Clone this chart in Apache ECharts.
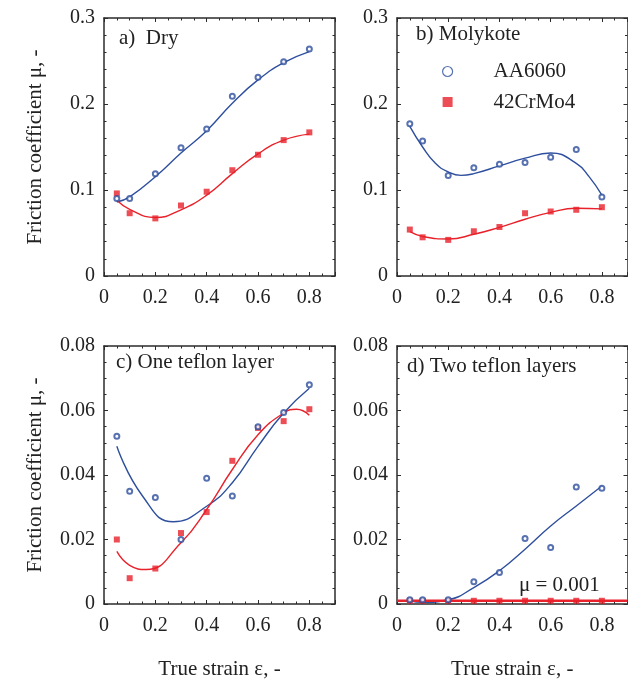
<!DOCTYPE html>
<html><head><meta charset="utf-8">
<script src="https://cdn.jsdelivr.net/npm/echarts@6/dist/echarts.min.js"></script>
<style>html,body{margin:0;padding:0;background:#fff}#c{width:628px;height:681px}</style>
</head><body><div id="c"></div>
<script>
// ---- measured data ----
const strain = [0.05, 0.1, 0.2, 0.3, 0.4, 0.5, 0.6, 0.7, 0.8];
const dryAA  = [0.090, 0.090, 0.119, 0.149, 0.171, 0.209, 0.231, 0.249, 0.264];
const dryCr  = [0.096, 0.073, 0.067, 0.082, 0.098, 0.123, 0.141, 0.158, 0.167];
const molyAA = [0.177, 0.157, 0.117, 0.126, 0.130, 0.132, 0.138, 0.147, 0.092];
const molyCr = [0.054, 0.045, 0.042, 0.052, 0.057, 0.073, 0.075, 0.077, 0.080];
const oneAA  = [0.052, 0.035, 0.033, 0.020, 0.039, 0.0335, 0.055, 0.0594, 0.068];
const oneCr  = [0.020, 0.008, 0.011, 0.022, 0.0285, 0.0444, 0.0546, 0.0567, 0.0604];
const twoAA  = [0.0013, 0.0013, 0.0013, 0.0069, 0.0098, 0.0203, 0.0175, 0.0363, 0.0359];
const twoCr  = [0.001, 0.001, 0.001, 0.001, 0.001, 0.001, 0.001, 0.001, 0.001];

// ---- fitted curves ----
const fitDryX    = [0.05, 0.1, 0.2, 0.3, 0.4, 0.5, 0.6, 0.7, 0.8];
const fitDryAA   = [0.086, 0.092, 0.1155, 0.143, 0.169, 0.201, 0.228, 0.248, 0.261];
const fitDryCr   = [0.088, 0.0775, 0.068, 0.077, 0.094, 0.119, 0.142, 0.158, 0.165];
const fitMolyAAX = [0.05, 0.1, 0.15, 0.2, 0.25, 0.3, 0.4, 0.5, 0.6, 0.7, 0.75, 0.8];
const fitMolyAA  = [0.174, 0.150, 0.131, 0.121, 0.117, 0.119, 0.128, 0.137, 0.143, 0.131, 0.1155, 0.094];
const fitMolyCrX = [0.05, 0.1, 0.2, 0.3, 0.4, 0.5, 0.6, 0.7, 0.8];
const fitMolyCr  = [0.0515, 0.046, 0.043, 0.0485, 0.0566, 0.066, 0.074, 0.0787, 0.078];
const fitOneAAX  = [0.05, 0.15, 0.27, 0.4, 0.5, 0.6, 0.7, 0.8];
const fitOneAA   = [0.0489, 0.0335, 0.0255, 0.0303, 0.0376, 0.0489, 0.0592, 0.0669];
const fitOneCrX  = [0.05, 0.1, 0.165, 0.3, 0.4, 0.5, 0.6, 0.7, 0.75, 0.8];
const fitOneCrY  = null;
const fitOneCr   = [0.0163, 0.012, 0.0107, 0.019, 0.0293, 0.0417, 0.0525, 0.0592, 0.0604, 0.0585];
const fitTwoX    = [0.05, 0.1, 0.2, 0.3, 0.4, 0.5, 0.6, 0.7, 0.8];
const fitTwoAA   = [0.001, 0.0005, 0.0013, 0.0051, 0.0103, 0.017, 0.0242, 0.0304, 0.0366];
const limitX     = [0, 0.9];
const limitMu    = [0.001, 0.001];

// ---- labels ----
const panelTitles = ['a)  Dry', 'b) Molykote', 'c) One teflon layer', 'd) Two teflon layers'];
const seriesNames = ['AA6060', '42CrMo4'];
const xName = 'True strain ε, -';
const yName = 'Friction coefficient μ, -';
const limitLabel = 'μ = 0.001';

const zip = (xs, ys) => xs.map((x, i) => [x, ys[i]]);

const BLUE = '#2E4F9E', RED = '#E8212A', AX = '#2b2b2b';
const FONT = 'Liberation Serif';

const grids = [
  {left: 104, top: 18, width: 231, height: 258},
  {left: 397, top: 18, width: 230.5, height: 258},
  {left: 104, top: 346, width: 231, height: 259},
  {left: 397, top: 346, width: 230.5, height: 259}
];
const yCfg = [
  {max: 0.3, interval: 0.1, minor: 5},
  {max: 0.3, interval: 0.1, minor: 5},
  {max: 0.08, interval: 0.02, minor: 4},
  {max: 0.08, interval: 0.02, minor: 4}
];

const xAxis = [], yAxis = [];
for (let i = 0; i < 4; i++) {
  const bottomRow = i >= 2, leftCol = i % 2 === 0;
  xAxis.push({
    type: 'value', gridIndex: i, min: 0, max: 0.9, interval: 0.2,
    position: 'bottom',
    axisLine: {onZero: false, lineStyle: {color: AX, width: 1.5}},
    axisTick: {inside: true, length: 4, lineStyle: {color: AX}},
    minorTick: {show: true, splitNumber: 4, length: 2.5, lineStyle: {color: AX}},
    splitLine: {show: false},
    axisLabel: {fontFamily: FONT, fontSize: 20, color: '#222', margin: 12, showMaxLabel: false},
    name: bottomRow ? xName : '', nameLocation: 'middle', nameGap: 55,
    nameTextStyle: {fontFamily: FONT, fontSize: 21, color: '#222'}
  });
  xAxis.push({
    type: 'value', gridIndex: i, min: 0, max: 0.9, interval: 0.2, position: 'top',
    axisLine: {onZero: false, lineStyle: {color: AX, width: 1.5}},
    axisTick: {inside: true, length: 4, lineStyle: {color: AX}},
    minorTick: {show: true, splitNumber: 4, length: 2.5, lineStyle: {color: AX}},
    splitLine: {show: false}, axisLabel: {show: false}
  });
  yAxis.push({
    type: 'value', gridIndex: i, min: 0, max: yCfg[i].max, interval: yCfg[i].interval,
    position: 'left',
    axisLine: {show: true, onZero: false, lineStyle: {color: AX, width: 1.5}},
    axisTick: {inside: true, length: 4, lineStyle: {color: AX}},
    minorTick: {show: true, splitNumber: yCfg[i].minor, length: 2.5, lineStyle: {color: AX}},
    splitLine: {show: false},
    axisLabel: {fontFamily: FONT, fontSize: 20, color: '#222', margin: 9},
    name: leftCol ? yName : '', nameLocation: 'middle', nameGap: 58,
    nameTextStyle: {fontFamily: FONT, fontSize: 21, color: '#222'}
  });
  yAxis.push({
    type: 'value', gridIndex: i, min: 0, max: yCfg[i].max, interval: yCfg[i].interval,
    position: 'right',
    axisLine: {show: true, onZero: false, lineStyle: {color: AX, width: 1.5}},
    axisTick: {inside: true, length: 4, lineStyle: {color: AX}},
    minorTick: {show: true, splitNumber: yCfg[i].minor, length: 2.5, lineStyle: {color: AX}},
    splitLine: {show: false}, axisLabel: {show: false}
  });
}

const pointsAA = [dryAA, molyAA, oneAA, twoAA];
const pointsCr = [dryCr, molyCr, oneCr, twoCr];
const fits = [
  [[fitDryX, fitDryAA, BLUE], [fitDryX, fitDryCr, RED]],
  [[fitMolyAAX, fitMolyAA, BLUE], [fitMolyCrX, fitMolyCr, RED]],
  [[fitOneAAX, fitOneAA, BLUE], [fitOneCrX, fitOneCr, RED]],
  [[fitTwoX, fitTwoAA, BLUE]]
];

const series = [];
for (let i = 0; i < 4; i++) {
  fits[i].forEach(([fx, fy, col], k) => {
    series.push({
      type: 'line', name: 'fit' + i + '_' + k, xAxisIndex: 2 * i, yAxisIndex: 2 * i,
      data: zip(fx, fy), smooth: 0.5, showSymbol: false, symbol: 'none',
      lineStyle: {color: col, width: 1.4}, z: 2, silent: true
    });
  });
  if (i === 3) {
    series.push({
      type: 'line', name: 'limit', xAxisIndex: 6, yAxisIndex: 6,
      data: zip(limitX, limitMu), symbol: 'none',
      lineStyle: {color: RED, width: 2.6}, z: 2, silent: true
    });
  }
  series.push({
    type: 'scatter', name: seriesNames[0], xAxisIndex: 2 * i, yAxisIndex: 2 * i,
    data: zip(strain, pointsAA[i]), symbol: 'emptyCircle', symbolSize: 5,
    itemStyle: {color: BLUE, borderColor: BLUE, borderWidth: 1.1}, z: 4
  });
  series.push({
    type: 'scatter', name: seriesNames[1], xAxisIndex: 2 * i, yAxisIndex: 2 * i,
    data: zip(strain, pointsCr[i]), symbol: 'rect', symbolSize: 6,
    itemStyle: {color: RED}, z: 3
  });
}

const titlePos = [[119, 28], [416, 24], [116, 352], [407, 356]];
const option = {
  backgroundColor: '#fff',
  animation: false,
  title: panelTitles.map((t, i) => ({
    text: t, left: titlePos[i][0], top: titlePos[i][1], padding: 0,
    textStyle: {fontFamily: FONT, fontSize: 21, fontWeight: 'normal', color: '#222'}
  })),
  legend: {
    data: [
      {name: seriesNames[0], icon: 'circle', itemStyle: {color: '#ffffff', borderColor: BLUE, borderWidth: 1.2}},
      {name: seriesNames[1], icon: 'rect', itemStyle: {color: RED}}
    ],
    orient: 'vertical', left: 442, top: 61, itemGap: 9.5, itemWidth: 10, itemHeight: 10,
    selectedMode: false, padding: 0,
    textStyle: {fontFamily: FONT, fontSize: 21, color: '#222', padding: [0, 0, 0, 36]}
  },
  graphic: [{
    type: 'text', left: 519, top: 575,
    style: {text: limitLabel, font: '21px "Liberation Serif"', fill: '#222'}
  }],
  grid: grids,
  xAxis, yAxis, series
};
const chart = echarts.init(document.getElementById('c'), null, {renderer: 'canvas'});
chart.setOption(option);
</script></body></html>
